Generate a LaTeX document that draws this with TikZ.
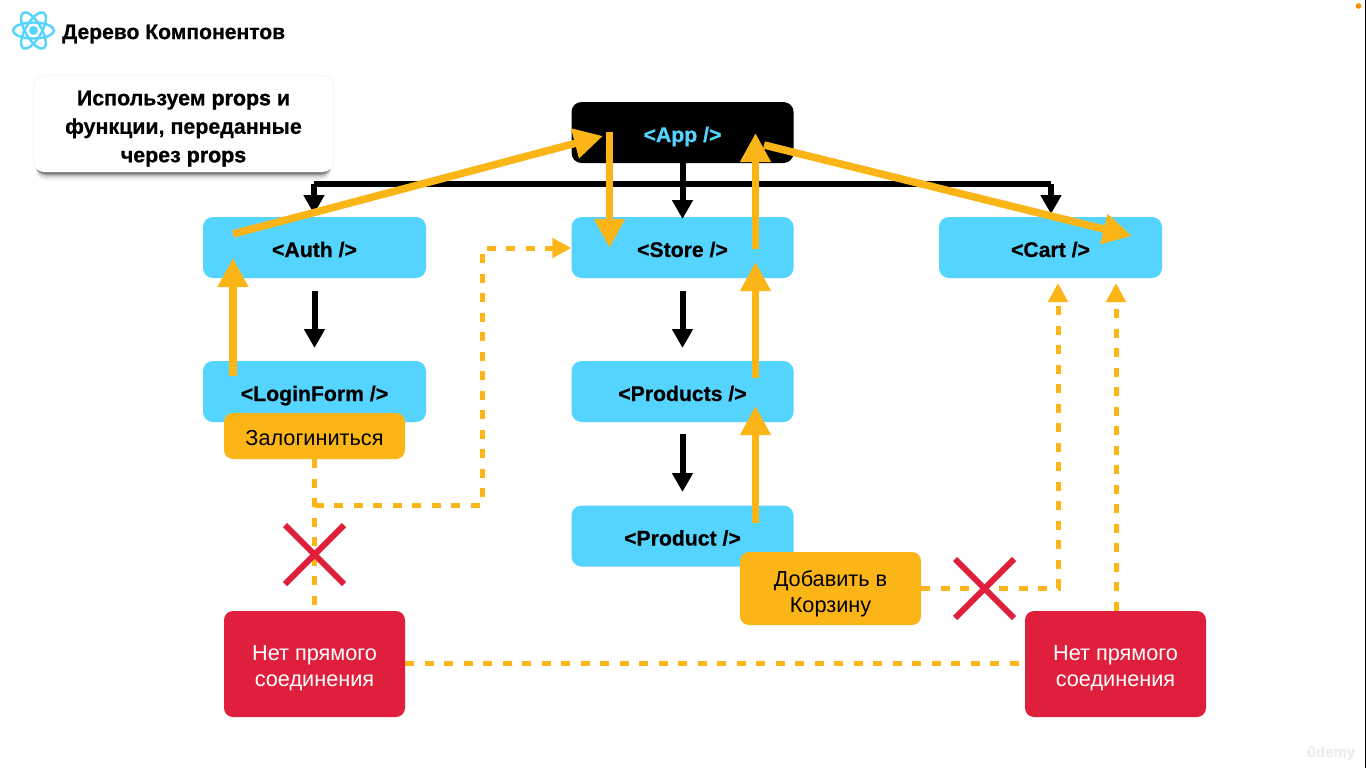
\documentclass[tikz,border=0pt]{standalone}
\usepackage{fontspec}
\setmainfont[BoldFeatures={FakeBold=0.6}]{Liberation Sans}
\newfontfamily\heavyfont[FakeBold=1.6]{Liberation Sans Bold}
\usetikzlibrary{arrows.meta}
\definecolor{reactblue}{HTML}{55D4FF}
\definecolor{amber}{HTML}{FBB516}
\definecolor{crimson}{HTML}{E01F3D}
\newcommand{\lowerby}[1]{\rule{0pt}{#1pt}}
\tikzset{
  x=1pt,y=-1pt,
  comp/.style={draw=none,fill=reactblue,rounded corners=10pt,minimum width=223pt,minimum height=61pt,inner sep=0pt,text height=19pt,text depth=0pt,font=\fontsize{21.2}{24}\selectfont\bfseries,text=black},
  midcomp/.style={comp,minimum width=222pt},
  rootcomp/.style={midcomp,fill=black,text=reactblue},
  actionbox/.style={draw=none,fill=amber,rounded corners=9pt,minimum width=181pt,inner sep=0pt,align=center,font=\fontsize{21.7}{26}\selectfont,text=black},
  nolink/.style={draw=none,fill=crimson,rounded corners=9pt,minimum width=181pt,minimum height=106pt,inner sep=0pt,align=center,font=\fontsize{21.7}{26}\selectfont,text=white},
  tree/.style={draw=black,line width=6pt},
  treearrow/.style={tree,-{Triangle[width=20pt,length=19pt]}},
  flow/.style={draw=amber,line width=7.5pt,-{Triangle[width=29pt,length=29pt]}},
  dashline/.style={draw=amber,line width=5pt,dash pattern=on 9pt off 10.5pt},
  dasharrow/.style={dashline,-{Triangle[width=19pt,length=19pt]}},
  cross/.style={draw=crimson,line width=6pt},
  atom/.style={draw=reactblue,line width=2.4pt},
}
\begin{document}
\begin{tikzpicture}
\useasboundingbox (0,0) rectangle (1366,768);
\fill[white] (0,0) rectangle (1366,768);
\fill[black] (1365,0) rectangle (1366,768);
\fill[orange!90!yellow] (1358.5,6) circle (2.8);

% logo and title
\begin{scope}[shift={(33.5,30.5)}]
  \draw[atom] (0,0) ellipse [x radius=20.5pt,y radius=8pt];
  \draw[atom,rotate=60] (0,0) ellipse [x radius=20.5pt,y radius=8pt];
  \draw[atom,rotate=-60] (0,0) ellipse [x radius=20.5pt,y radius=8pt];
  \fill[reactblue] (0,0) circle (4.5);
\end{scope}
\node[anchor=west,inner sep=0pt,font=\fontsize{21.1}{26}\selectfont\bfseries] (title) at (62,34) {Дерево Компонентов};

% callout
\fill[black!4,rounded corners=11pt] (33,75) rectangle (334,173);
\foreach \o/\c in {8/4,7/7,6/11,5/17,4/25,3/37,2/52}{
  \fill[black!\c!white,rounded corners=10pt] (36,{76+\o}) rectangle (331,{172+\o});
}
\node[draw=none,fill=white,rounded corners=10pt,minimum width=299pt,minimum height=96pt,inner sep=0pt,align=center,font=\fontsize{21.4}{28.5}\selectfont\bfseries] (note) at (183.5,124)
  {\lowerby{24}Используем {\heavyfont props} и\\функции, переданные\\через {\heavyfont props}};

% components
\node[rootcomp] (app) at (682.5,132.5) {<App />};
\node[comp] (auth) at (314.5,247.5) {<Auth />};
\node[midcomp] (store) at (682.5,247.5) {<Store />};
\node[comp] (cart) at (1050.5,247.5) {<Cart />};
\node[comp] (login) at (314.5,391.5) {<LoginForm />};
\node[midcomp] (products) at (682.5,391.5) {<Products />};
\node[midcomp] (product) at (682.5,536) {<Product />};

% anchors for connector ends
\coordinate (busL) at (314,184);
\coordinate (busR) at (1051,184);
\coordinate (busM) at (682.5,184);
\coordinate (authTop) at (314,214);
\coordinate (cartTop) at (1051,214);
\coordinate (storeTop) at (682.5,219);
\coordinate (authBelow) at (314.5,291);
\coordinate (loginAbove) at (314.5,348);
\coordinate (storeBelow) at (682.5,291);
\coordinate (productsAbove) at (682.5,348);
\coordinate (productsBelow) at (682.5,434);
\coordinate (productAbove) at (682.5,492);

% tree connectors
\draw[tree] (busL) -- (busR);
\draw[tree] (app.south) -- (busM);
\draw[treearrow] (busM) -- (storeTop);
\draw[treearrow] (busL) -- (authTop);
\draw[treearrow] (busR) -- (cartTop);
\draw[treearrow] (authBelow) -- (loginAbove);
\draw[treearrow] (storeBelow) -- (productsAbove);
\draw[treearrow] (productsBelow) -- (productAbove);

% action and no-link boxes
\node[actionbox,minimum height=46pt] (logbtn) at (314.5,436) {\lowerby{20}Залогиниться};
\node[actionbox,minimum height=73pt] (addbtn) at (830.5,588.5) {\lowerby{26}Добавить в\\Корзину};
\node[nolink] (nl) at (314.5,664) {\lowerby{24}Нет прямого\\соединения};
\node[nolink] (nr) at (1115.5,664) {\lowerby{24}Нет прямого\\соединения};

% dashed connectors
\coordinate (branch) at (314.5,505);
\coordinate (turnUp) at (482,505);
\coordinate (turnIn) at (482,248);
\coordinate (dashEnd) at (314.5,606);
\coordinate (turnCart) at (1058,588);
\coordinate (cartDashA) at (1058,283);
\coordinate (cartDashB) at (1116,283);
\draw[dashline] (logbtn.south) -- (dashEnd);
\draw[dasharrow] (branch) -- (turnUp) -- (turnIn) -- (store.west |- turnIn);
\draw[dasharrow] (addbtn.east |- turnCart) -- (turnCart) -- (cartDashA);
\draw[dasharrow] (nr.north -| cartDashB) -- (cartDashB);
\draw[dashline] (nl.east |- 0,663) -- (nr.west |- 0,663);

% flow arrows
\coordinate (loginUpS) at (233,376);
\coordinate (authUpT) at (233,258);
\coordinate (authOutS) at (233,234);
\coordinate (appInT) at (603,136);
\coordinate (appDownS) at (609.5,132);
\coordinate (storeDownT) at (609.5,248);
\coordinate (storeUpS) at (755.5,249);
\coordinate (appUpT) at (755.5,133);
\coordinate (appOutS) at (764,145);
\coordinate (cartInT) at (1132,236);
\coordinate (prodsUpS) at (755.5,378);
\coordinate (storeUpT) at (755.5,262);
\coordinate (prodUpS) at (755.5,523);
\coordinate (prodsUpT) at (755.5,406);
\draw[flow] (loginUpS) -- (authUpT);
\draw[flow] (authOutS) -- (appInT);
\draw[flow] (appDownS) -- (storeDownT);
\draw[flow] (storeUpS) -- (appUpT);
\draw[flow] (appOutS) -- (cartInT);
\draw[flow] (prodsUpS) -- (storeUpT);
\draw[flow] (prodUpS) -- (prodsUpT);

% crosses
\draw[cross] (285,525) -- (344,584) (285,584) -- (344,525);
\draw[cross] (955,559) -- (1014,618) (955,618) -- (1014,559);

% watermark
\node[inner sep=0pt,font=\fontsize{15}{18}\selectfont\bfseries,text=black!7] (mark) at (1331,753) {ûdemy};
\end{tikzpicture}
\end{document}
